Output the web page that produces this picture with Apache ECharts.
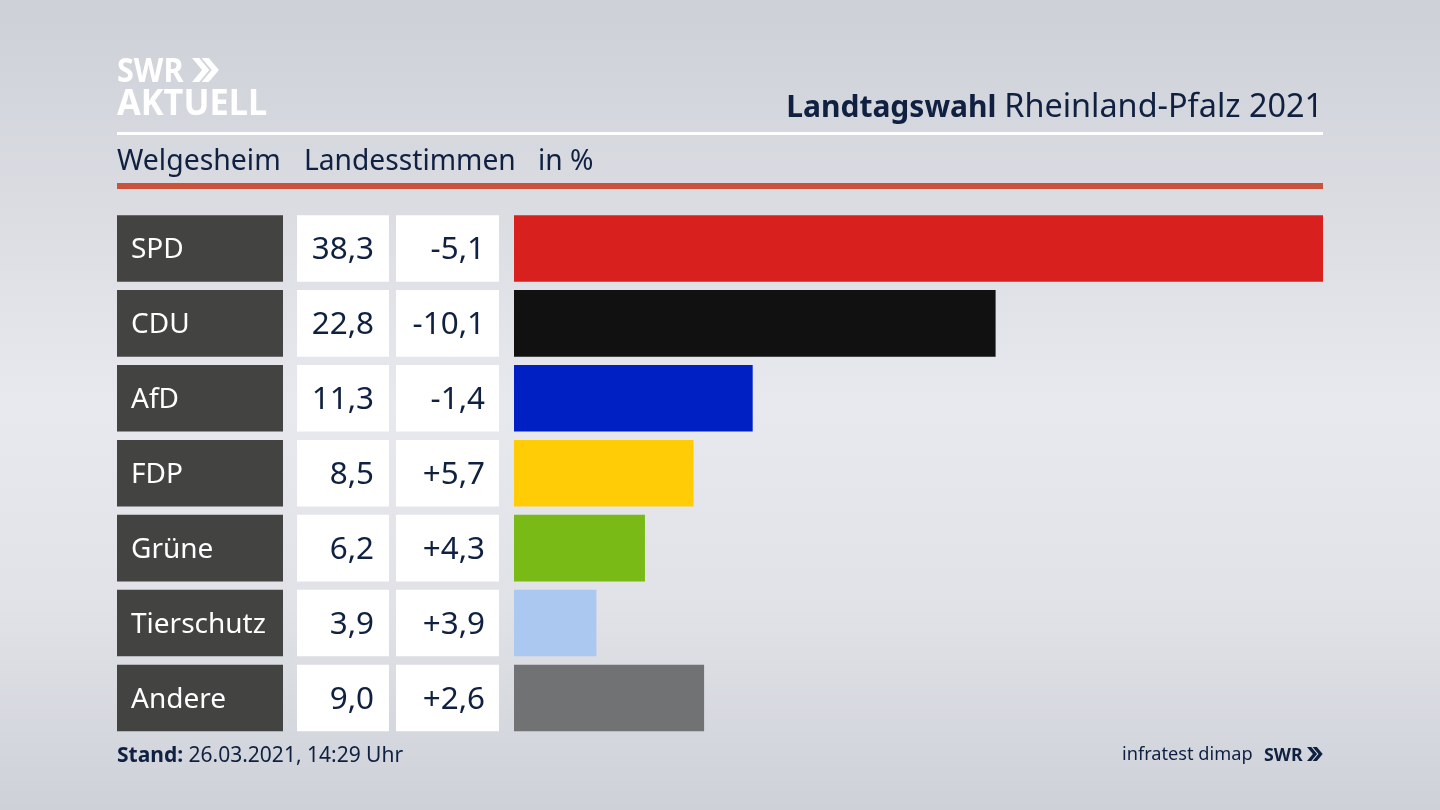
<!DOCTYPE html>
<html>
<head>
<meta charset="UTF-8">
<title>Landtagswahl Rheinland-Pfalz 2021</title>
<script src="https://cdn.jsdelivr.net/npm/echarts@6/dist/echarts.min.js"></script>
<style>
html, body { margin: 0; padding: 0; }
#myChart { width: 1440px; height: 810px; }
</style>
</head>
<body>
<div id="myChart"></div>
<script>
var parties = ['SPD', 'CDU', 'AfD', 'FDP', 'Grüne', 'Tierschutz', 'Andere'];
var shares = [38.3, 22.8, 11.3, 8.5, 6.2, 3.9, 9.0];
var changes = ['-5,1', '-10,1', '-1,4', '+5,7', '+4,3', '+3,9', '+2,6'];
var partyColors = ['#d8201f', '#111111', '#0020c4', '#ffcc06', '#7aba17', '#aac8f0', '#717274'];

var FONT = '"Noto Sans", sans-serif';
var NAVY = '#0f2040';
var GRID_TOP = 211;
var GRID_HEIGHT = 524.4;
var BAR_W = 66.6;

function german(v) { return v.toFixed(1).replace('.', ','); }

// one grid per column, all sharing the same row layout
function col(left, width) {
    return { left: left, width: width, top: GRID_TOP, height: GRID_HEIGHT };
}
function yAxis(i) {
    return { gridIndex: i, type: 'category', inverse: true, data: parties, show: false };
}
function xAxis(i, max) {
    return { gridIndex: i, type: 'value', min: 0, max: max, show: false };
}
// box column: every row is a full width bar that carries a text label
function boxes(i, color, textColor, pos, dist, size, texts) {
    return {
        type: 'bar', xAxisIndex: i, yAxisIndex: i, barWidth: BAR_W, silent: true, animation: false,
        data: parties.map(function () { return 1; }),
        itemStyle: { color: color },
        label: {
            show: true, position: pos, distance: dist, color: textColor, offset: [0, 2],
            fontFamily: FONT, fontSize: size,
            formatter: function (p) { return texts[p.dataIndex]; }
        }
    };
}

function chevrons(x, y, h, color) {
    // the two arrow heads of the SWR logo
    var w = h * 0.42, t = h * 0.3, out = [];
    for (var k = 0; k < 2; k++) {
        var x0 = x + k * (t + h * 0.1);
        out.push({
            type: 'polygon', silent: true,
            shape: { points: [[x0, y], [x0 + t, y], [x0 + t + w, y + h / 2], [x0 + t, y + h], [x0, y + h], [x0 + w, y + h / 2]] },
            style: { fill: color }
        });
    }
    return out;
}

function text(x, y, t, size, color, extra) {
    var s = { x: x, y: y, text: t, fontFamily: FONT, fontSize: size, fill: color, textVerticalAlign: 'middle' };
    for (var k in extra) s[k] = extra[k];
    return { type: 'text', silent: true, style: s };
}
// logo lettering is narrower than Noto Sans, squeeze it from its left edge
function squeezed(el, x, sx) {
    el.scaleX = sx;
    el.originX = x;
    return el;
}

var graphics = [
    { type: 'rect', silent: true, shape: { x: 117, y: 132, width: 1206, height: 3 }, style: { fill: '#ffffff' } },
    { type: 'rect', silent: true, shape: { x: 117, y: 183, width: 1206, height: 6 }, style: { fill: '#c9533c' } },
    squeezed(text(117, 72, 'SWR', 34, '#ffffff', { fontWeight: 'bold' }), 117, 0.9),
    squeezed(text(117, 105, 'AKTUELL', 36, '#ffffff', { fontWeight: 'bold' }), 117, 0.955),
    text(117, 162, 'Welgesheim', 28.4, NAVY),
    text(304, 162, 'Landesstimmen', 28.2, NAVY),
    text(538, 162, 'in %', 28.2, NAVY),
    text(1323, 108, '{b|Landtagswahl} {r|Rheinland-Pfalz 2021}', 30, NAVY, {
        textAlign: 'right',
        rich: {
            b: { fontFamily: FONT, fontSize: 30, fontWeight: 'bold', fill: NAVY },
            r: { fontFamily: FONT, fontSize: 32.4, fill: NAVY }
        }
    }),
    text(117, 756, '{b|Stand:} {r|26.03.2021, 14:29 Uhr}', 21, NAVY, {
        rich: {
            b: { fontFamily: FONT, fontSize: 21, fontWeight: 'bold', fill: NAVY },
            r: { fontFamily: FONT, fontSize: 21, fill: NAVY }
        }
    }),
    text(1122, 755, 'infratest dimap', 18.2, NAVY),
    squeezed(text(1264, 756, 'SWR', 18.5, NAVY, { fontWeight: 'bold' }), 1264, 0.96)
].concat(chevrons(192, 58, 24, '#ffffff'), chevrons(1307, 747, 14, NAVY));

var chart_myChart = echarts.init(document.getElementById('myChart'), null, { renderer: 'canvas' });

var option = {
    animation: false,
    backgroundColor: {
        type: 'linear', x: 0, y: 0, x2: 0, y2: 1,
        colorStops: [
            { offset: 0, color: '#cdd0d7' },
            { offset: 0.25, color: '#dadce2' },
            { offset: 0.5, color: '#e8e9ee' },
            { offset: 0.75, color: '#e0e2e7' },
            { offset: 1, color: '#ced1d8' }
        ]
    },
    graphic: { elements: graphics },
    grid: [col(117, 166), col(297, 92), col(396, 103), col(514, 809)],
    yAxis: [yAxis(0), yAxis(1), yAxis(2), yAxis(3)],
    xAxis: [xAxis(0, 1), xAxis(1, 1), xAxis(2, 1), xAxis(3, 38.3)],
    series: [
        boxes(0, '#434341', '#ffffff', 'insideLeft', 14, 28, parties),
        boxes(1, '#ffffff', NAVY, 'insideRight', 15, 31.4, shares.map(german)),
        boxes(2, '#ffffff', NAVY, 'insideRight', 14, 31.4, changes),
        {
            type: 'bar', xAxisIndex: 3, yAxisIndex: 3, barWidth: BAR_W, silent: true,
            data: shares.map(function (v, i) {
                return { value: v, itemStyle: { color: partyColors[i] } };
            })
        }
    ]
};
chart_myChart.setOption(option);
</script>
</body>
</html>
